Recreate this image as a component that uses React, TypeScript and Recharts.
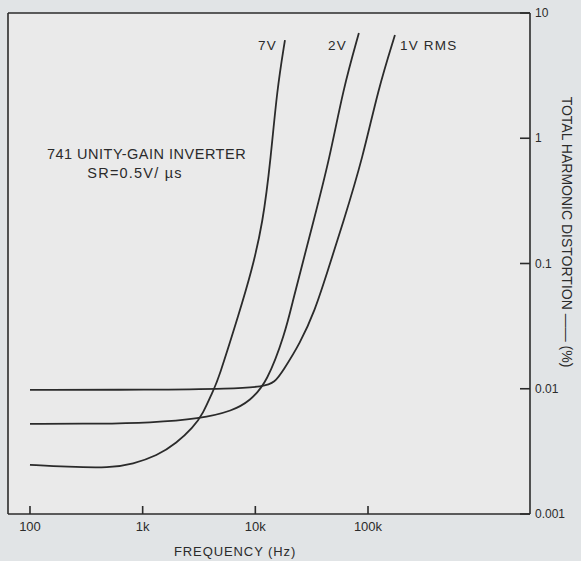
import React from "react";
import { LineChart, Line, XAxis, YAxis, CartesianGrid, ReferenceLine } from "recharts";

// frequency (Hz) / total harmonic distortion (%)
const freq7V = [100, 213, 513, 820, 1340, 2010, 2790, 3430, 4210, 4660, 7300, 9140, 11670, 13740, 15560, 18320];
const thd7V = [0.00247, 0.00238, 0.00233, 0.00251, 0.00291, 0.0037, 0.00488, 0.0063, 0.00964, 0.0116, 0.0421, 0.0832, 0.209, 0.705, 2.42, 6.08];

const freq2V = [100, 418, 1160, 3220, 6320, 8950, 12700, 18330, 21560, 24890, 32450, 45920, 59840, 82990];
const thd2V = [0.00525, 0.00525, 0.00535, 0.00575, 0.00667, 0.008, 0.0112, 0.0275, 0.0506, 0.0832, 0.209, 0.705, 2.42, 6.92];

const freq1V = [100, 1160, 6300, 11700, 14930, 17580, 24890, 33800, 43150, 59840, 90160, 122400, 173400];
const thd1V = [0.0098, 0.0098, 0.01, 0.0104, 0.0112, 0.0139, 0.0229, 0.0421, 0.0832, 0.209, 0.705, 2.42, 6.67];

const freqTicks = [100, 1000, 10000, 100000];
const thdTicks = [0.001, 0.01, 0.1, 1, 10];
const freqDomain = [63.8, 2740000];
const thdDomain = [0.001, 10];

const toPoints = (f: number[], t: number[]) => f.map((x, i) => ({ f: x, thd: t[i] }));

const series = [
  { name: "7V", data: toPoints(freq7V, thd7V), dx: -8, dy: 10, anchor: "end" },
  { name: "2V", data: toPoints(freq2V, thd2V), dx: -12, dy: 17, anchor: "end" },
  { name: "1V RMS", data: toPoints(freq1V, thd1V), dx: 5, dy: 15, anchor: "start" },
];

const INK = "#2b2b2b";
const FONT = "'Liberation Sans', Arial, sans-serif";

const fmtFreq = (v: number) => (v >= 1000 ? `${v / 1000}k` : `${v}`);

// ticks point inward, labels sit outside
const FreqTick = (p: any) => (
  <g>
    <line x1={p.x} y1={p.y} x2={p.x} y2={p.y - 8} stroke={INK} strokeWidth={1.6} />
    <text x={p.x} y={p.y + 17} textAnchor="middle" fill={INK} fontSize={13} fontFamily={FONT}>
      {fmtFreq(p.payload.value)}
    </text>
  </g>
);

const ThdTick = (p: any) => (
  <g>
    <line x1={p.x} y1={p.y} x2={p.x - 10} y2={p.y} stroke={INK} strokeWidth={1.6} />
    <text x={p.x + 5} y={p.y} dominantBaseline="central" fill={INK} fontSize={12} fontFamily={FONT}>
      {`${p.payload.value}`}
    </text>
  </g>
);

const FreqTitle = (props: any) => {
  const vb = props.viewBox;
  return (
    <text x={vb.x + vb.width * 0.435} y={vb.y + vb.height - 5} textAnchor="middle"
      fill={INK} fontSize={13} letterSpacing={0.9} fontFamily={FONT}>
      FREQUENCY (Hz)
    </text>
  );
};

const ThdTitle = (props: any) => {
  const vb = props.viewBox;
  const cx = vb.x + 37;
  const cy = 232;
  return (
    <text x={cx} y={cy} transform={`rotate(90, ${cx}, ${cy})`} textAnchor="middle"
      dominantBaseline="central" fill={INK} fontSize={14} fontFamily={FONT}>
      TOTAL HARMONIC DISTORTION —— (%)
    </text>
  );
};

const endLabel = (s: (typeof series)[number]) => (p: any) => {
  if (p.index !== s.data.length - 1) return <g key={`d${p.index}`} />;
  return (
    <text key={`d${p.index}`} x={p.cx + s.dx} y={p.cy + s.dy} textAnchor={s.anchor}
      fill={INK} fontSize={13.5} letterSpacing={1.2} fontFamily={FONT}>
      {s.name}
    </text>
  );
};

const noteStyle: React.CSSProperties = {
  position: "absolute",
  left: 0,
  width: 293,
  textAlign: "center",
  color: INK,
  fontFamily: FONT,
  fontSize: 14.5,
  letterSpacing: 0.5,
  lineHeight: "14.5px",
  whiteSpace: "nowrap",
};

export default function App() {
  return (
    <div style={{ position: "absolute", left: 0, top: 0, width: 581, height: 561, background: "#e1e4e6" }}>
      <LineChart width={581} height={561} margin={{ top: 13, right: 0, bottom: 0, left: 8 }}>
        <CartesianGrid horizontal={false} vertical={false} fill="#eaeaea" />
        <XAxis
          dataKey="f"
          type="number"
          scale="log"
          domain={freqDomain}
          allowDataOverflow
          ticks={freqTicks}
          height={47}
          tickSize={0}
          tickMargin={0}
          tickLine={false}
          stroke={INK}
          strokeWidth={1.6}
          tick={<FreqTick />}
          label={<FreqTitle />}
        />
        <YAxis
          orientation="right"
          type="number"
          scale="log"
          domain={thdDomain}
          allowDataOverflow
          ticks={thdTicks}
          width={51}
          tickSize={0}
          tickMargin={0}
          tickLine={false}
          stroke={INK}
          strokeWidth={1.6}
          tick={<ThdTick />}
          label={<ThdTitle />}
        />
        <ReferenceLine y={thdDomain[1]} stroke={INK} strokeWidth={1.6} />
        <ReferenceLine x={freqDomain[0]} stroke={INK} strokeWidth={1.6} />
        {series.map((s) => (
          <Line
            key={s.name}
            data={s.data}
            dataKey="thd"
            type="basis"
            stroke={INK}
            strokeWidth={1.8}
            dot={endLabel(s)}
            activeDot={false}
            isAnimationActive={false}
          />
        ))}
      </LineChart>
      <div style={{ ...noteStyle, top: 147 }}>741 UNITY-GAIN INVERTER</div>
      <div style={{ ...noteStyle, top: 166, width: 270, letterSpacing: 1.2 }}>SR=0.5V/ µs</div>
    </div>
  );
}
